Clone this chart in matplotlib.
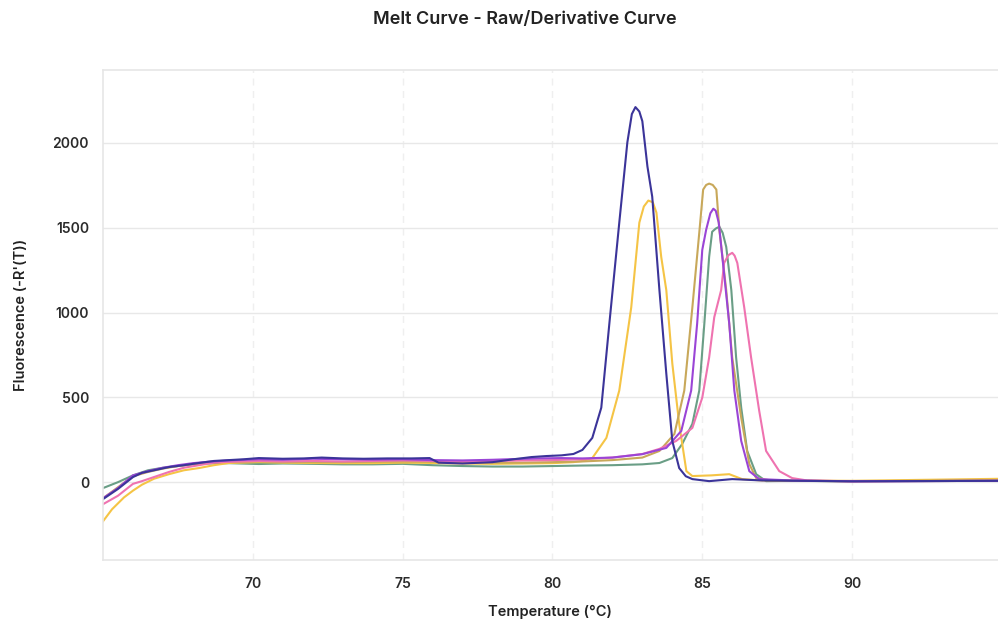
import matplotlib
matplotlib.use("Agg")
import matplotlib.pyplot as plt

plt.rcParams['font.family'] = ['Inter', 'DejaVu Sans']

# curve data (temperature in C, -R'(T))
navy_t = [65.0, 65.5, 66.0, 66.3, 66.7, 67.2, 67.7, 68.2, 68.7, 69.2, 69.7, 70.2, 71.0, 71.7, 72.3, 73.0,
          73.7, 74.5, 75.3, 75.9, 76.2, 77.0, 78.0, 78.7, 79.3, 79.8, 80.3, 80.7, 81.0, 81.33, 81.63, 81.9,
          82.23, 82.5, 82.65, 82.77, 82.9, 83.0, 83.17, 83.33, 83.57, 83.8, 84.0, 84.23, 84.45, 84.67, 85.23,
          86.0, 87.0, 90.0, 95.0]
navy_f = [-100, -40, 30, 55, 70, 89, 100, 113, 125, 130, 135, 142, 138, 140, 145, 140,
          138, 140, 140, 142, 115, 110, 118, 135, 148, 154, 158, 166, 190, 261, 439, 936,
          1529, 2003, 2170, 2211, 2185, 2128, 1861, 1683, 1132, 640, 243, 83, 35, 18, 6,
          18, 10, 5, 8]

yellow_t = [65.0, 65.3, 65.7, 66.0, 66.3, 66.7, 67.2, 67.7, 68.2, 68.7, 69.2, 70.2, 71.0, 72.0, 73.0, 74.0,
            75.0, 76.0, 77.0, 78.0, 79.0, 80.0, 80.7, 81.0, 81.33, 81.8, 82.23, 82.63, 82.9, 83.05, 83.2,
            83.35, 83.47, 83.63, 83.8, 84.0, 84.23, 84.47, 84.67, 85.3, 85.9, 86.33, 87.0, 90.0, 95.0]
yellow_f = [-231, -160, -90, -50, -15, 20, 47, 70, 83, 100, 113, 118, 115, 113, 112, 112,
            115, 113, 110, 108, 110, 112, 118, 125, 142, 261, 540, 1031, 1530, 1625, 1660,
            1650, 1589, 1328, 1132, 700, 344, 65, 36, 40, 47, 18, 10, 8, 20]

olive_t = [65.0, 65.5, 66.0, 66.5, 67.0, 67.5, 68.0, 68.5, 69.2, 70.2, 71.0, 72.0, 73.0, 74.0, 75.0, 76.0,
           77.0, 78.0, 79.0, 80.0, 81.0, 82.0, 83.0, 83.57, 84.07, 84.4, 84.67, 84.9, 85.03, 85.13, 85.23,
           85.35, 85.47, 85.57, 85.8, 86.0, 86.3, 86.57, 86.8, 87.3, 90.0, 95.0]
olive_f = [-95, -30, 35, 60, 80, 95, 108, 115, 120, 122, 120, 118, 118, 120, 122, 120,
           118, 115, 115, 118, 122, 130, 145, 184, 284, 540, 1031, 1470, 1725, 1752, 1760,
           1752, 1725, 1488, 1132, 735, 380, 107, 24, 10, 5, 12]

purple_t = [65.0, 65.5, 66.0, 66.5, 67.0, 67.5, 68.0, 68.5, 69.2, 70.2, 71.0, 72.0, 73.0, 74.0, 75.0, 76.0,
            77.0, 78.0, 78.7, 79.5, 80.3, 81.0, 82.0, 83.0, 83.8, 84.3, 84.63, 84.83, 85.0, 85.13, 85.27,
            85.37, 85.45, 85.55, 85.67, 85.9, 86.07, 86.3, 86.57, 86.9, 88.0, 90.0, 95.0]
purple_f = [-95, -35, 40, 65, 85, 100, 112, 120, 128, 135, 132, 138, 135, 133, 135, 130,
            128, 132, 136, 140, 142, 140, 145, 165, 202, 302, 540, 936, 1369, 1488, 1585,
            1612, 1600, 1530, 1328, 936, 540, 243, 65, 18, 10, 5, 8]

green_t = [65.0, 65.5, 66.0, 66.5, 67.0, 67.5, 68.0, 68.5, 69.2, 70.2, 71.0, 72.0, 73.0, 74.0, 75.0, 76.0,
           77.0, 78.0, 79.0, 80.0, 81.0, 82.0, 83.0, 83.57, 84.0, 84.33, 84.67, 84.9, 85.07, 85.23, 85.33,
           85.45, 85.57, 85.68, 85.8, 85.97, 86.13, 86.3, 86.5, 86.8, 87.13, 88.0, 90.0, 95.0]
green_f = [-35, 0, 40, 70, 85, 95, 105, 110, 112, 107, 110, 108, 105, 105, 108, 100,
           95, 92, 92, 95, 98, 100, 105, 113, 142, 225, 344, 540, 936, 1328, 1476,
           1495, 1506, 1470, 1387, 1132, 735, 439, 184, 47, 6, 8, 5, 8]

pink_t = [65.0, 65.5, 66.0, 66.3, 66.7, 67.2, 67.7, 68.2, 68.7, 69.2, 70.2, 71.0, 72.0, 73.0, 74.0, 75.0,
          76.0, 77.0, 78.0, 79.0, 80.0, 81.0, 82.0, 83.0, 83.57, 84.13, 84.67, 85.0, 85.23, 85.4, 85.63,
          85.73, 85.87, 86.0, 86.08, 86.17, 86.4, 86.63, 86.9, 87.13, 87.57, 88.0, 88.5, 90.0, 95.0]
pink_f = [-130, -80, -10, 6, 30, 60, 85, 100, 115, 120, 125, 122, 125, 122, 125, 128,
          125, 122, 125, 128, 130, 135, 145, 166, 196, 243, 320, 498, 735, 972, 1132,
          1292, 1338, 1352, 1335, 1292, 1031, 735, 421, 184, 65, 24, 10, 5, 8]

series = [
    (green_t, green_f, '#6a9e86'),
    (yellow_t, yellow_f, '#f5c445'),
    (olive_t, olive_f, '#c8a85a'),
    (pink_t, pink_f, '#ef73b0'),
    (purple_t, purple_f, '#9a45d6'),
    (navy_t, navy_f, '#3b3499'),
]

fig = plt.figure(figsize=(9.98, 6.19), dpi=100)
ax = fig.add_axes([0.1032, 0.095, 0.8968, 0.792])

for t, f, c in series:
    ax.plot(t, f, color=c, lw=1.5, solid_joinstyle='round')

ax.set_xlim(65, 94.87)
ax.set_ylim(-460, 2430)
ax.set_xticks([70, 75, 80, 85, 90])
ax.set_yticks([0, 500, 1000, 1500, 2000])

ax.grid(axis='y', color='#e8e8e8', lw=1)
ax.grid(axis='x', color='#efefef', lw=1, ls=(0, (5, 4)))
ax.set_axisbelow(True)

for s in ['left', 'bottom', 'top']:
    ax.spines[s].set_color('#e6e6e6')
    ax.spines[s].set_linewidth(1.2)
ax.spines['right'].set_visible(False)

ax.tick_params(length=0, labelsize=10, labelcolor='#2b2b2b')
ax.tick_params(axis='y', pad=10)
ax.tick_params(axis='x', pad=12)
for lab in ax.get_xticklabels() + ax.get_yticklabels():
    lab.set_fontweight('semibold')

ax.set_xlabel('Temperature (°C)', fontsize=10.5, fontweight='semibold', color='#222222', labelpad=10)
ax.set_ylabel("Fluorescence (-R'(T))", fontsize=10.5, fontweight='semibold', color='#222222', labelpad=18)
fig.text(0.526, 0.968, 'Melt Curve - Raw/Derivative Curve', ha='center', va='center',
         fontsize=13, fontweight='semibold', color='#222222')

fig.savefig('out.png', dpi=100)
